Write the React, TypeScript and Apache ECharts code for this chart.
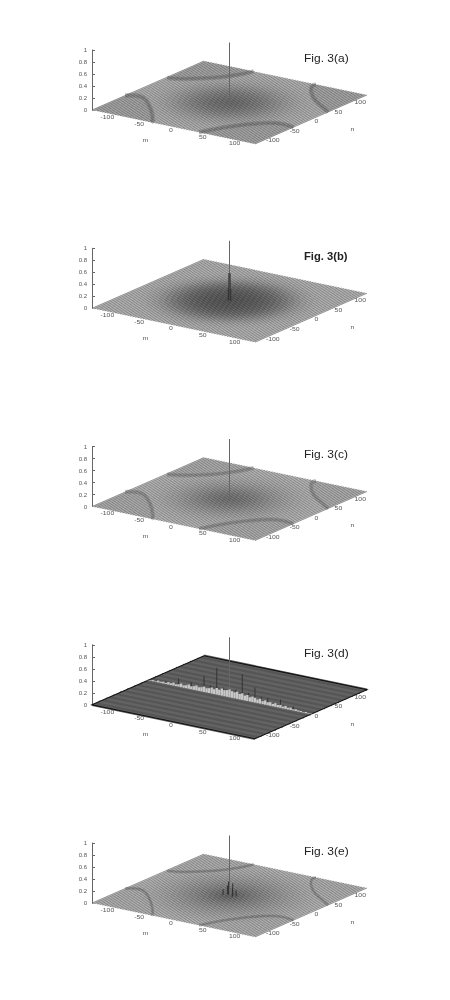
import React, { useEffect, useRef } from "react";
import * as echarts from "echarts";

// Panel captions
const captions = ["Fig. 3(a)", "Fig. 3(b)", "Fig. 3(c)", "Fig. 3(d)", "Fig. 3(e)"];
const mTicks = [-100, -50, 0, 50, 100];
const nTicks = [-100, -50, 0, 50, 100];

// Mean surface grey, by radius from the centre (m, n) = (0, 0)
const radii = [124, 116, 108, 100, 92, 84, 76, 68, 60, 52, 44, 36, 28, 20, 12, 5];
const greyA = [172, 170, 168, 164, 158, 150, 141, 130, 119, 108, 98, 90, 82, 76, 72, 68];
const greyB = [172, 168, 160, 150, 136, 118, 100, 84, 70, 60, 52, 46, 42, 38, 36, 34];
const greyC = [176, 174, 172, 169, 164, 158, 151, 143, 134, 124, 114, 104, 95, 88, 83, 80];
const greyD = [85, 85, 85, 85, 85, 85, 85, 85, 85, 85, 85, 85, 85, 85, 85, 85];
const greyE = [176, 172, 168, 163, 157, 151, 144, 136, 128, 119, 110, 100, 89, 78, 66, 56];

// Arcs round the four corners, as [m, n]
const arcLeft = [[-128, -52], [-106, -45], [-74, -74], [-39, -118], [-35, -128]];
const arcBack = [[-126, 41], [-107, 49], [-80, 72], [-59, 103], [-50, 128]];
const arcFront = [[40, -128], [52, -97], [74, -61], [100, -38], [128, -40]];
const arcRight = [[48, 128], [50, 114], [78, 78], [113, 50], [128, 39]];
const arcCorners = [[-128, -128], [-128, 128], [128, -128], [128, 128]];

// Peaks as [m, n, z]
const peaksA = [[0, 0, 1]];
const peaksB = [[0, 0, 1], [-1, 0, 0.46], [1, 0, 0.46], [2, 0, 0.2], [-2, 0, 0.2]];
const peaksC = [[0, 0, 1]];
const peaksD = [[0, 0, 1], [-20, 0, 0.445], [20, 0, 0.43], [-40, 0, 0.26], [40, 0, 0.25], [-60, 0, 0.117], [60, 0, 0.12], [-80, 0, 0.137], [80, 0, 0.14], [-100, 0, 0.05], [100, 0, 0.07], [-10, 0, 0.14], [10, 0, 0.15], [-30, 0, 0.13], [30, 0, 0.14], [50, 0, 0.12]];
const peaksE = [[0, 0, 1], [-6, 4, 0.14], [-3, 2, 0.22], [3, 3, 0.2], [6, -2, 0.14], [-8, -3, 0.1], [9, 2, 0.1]];

// Low ridge of panel (d) along n = 0, z at m = -128, -124, ... 128
const ridgeZ = [0.01, 0.01, 0.02, 0.01, 0.03, 0.02, 0.03, 0.02, 0.04, 0.03, 0.05, 0.03, 0.04, 0.06, 0.04, 0.05, 0.07, 0.05, 0.06, 0.08, 0.06, 0.07, 0.09, 0.07, 0.08, 0.1, 0.08, 0.11, 0.09, 0.12, 0.1, 0.11, 0.13, 0.11, 0.1, 0.12, 0.09, 0.11, 0.08, 0.1, 0.07, 0.09, 0.08, 0.06, 0.08, 0.05, 0.07, 0.05, 0.06, 0.04, 0.06, 0.04, 0.05, 0.03, 0.05, 0.03, 0.04, 0.02, 0.03, 0.02, 0.02, 0.01, 0.02, 0.01, 0.01];
const ridgeM = ridgeZ.map((_, i) => -128 + i * 4);

const panels = [
  { grey: greyA, peaks: peaksA, arc: 0.26, arcW: 2.4, corner: 0.12, base: 172, bold: false },
  { grey: greyB, peaks: peaksB, arc: 0, arcW: 0, corner: 0, base: 172, bold: true },
  { grey: greyC, peaks: peaksC, arc: 0.22, arcW: 2.2, corner: 0.07, base: 176, bold: false },
  { grey: greyD, peaks: peaksD, arc: 0, arcW: 0, corner: 0, base: 85, bold: false },
  { grey: greyE, peaks: peaksE, arc: 0.24, arcW: 1.6, corner: 0.04, base: 176, bold: false },
];

const STEP = 198.25;
const axisFont = "'Liberation Sans', Arial, sans-serif";
const project = (m: number, n: number, z: number) => {
  const a = (m + 128) / 256;
  const b = (n + 128) / 256;
  return [a * 163 + b * 112, 34 - a * 34 + b * 49 + 60 * z];
};

function custom(idx: number, count: number, render: (i: number, api: any) => any) {
  return {
    type: "custom",
    xAxisIndex: idx,
    yAxisIndex: idx,
    silent: true,
    clip: false,
    animation: false,
    data: Array.from({ length: count }, (_, i) => [i]),
    renderItem: (params: any, api: any) => render(params.dataIndex, api),
  };
}

function buildOption() {
  const grid: any[] = [];
  const xAxis: any[] = [];
  const yAxis: any[] = [];
  const series: any[] = [];
  const graphic: any[] = [];

  panels.forEach((p, k) => {
    const off = STEP * k;
    const pg = k * 2;
    const zg = k * 2 + 1;
    grid.push({ left: 92, width: 275, top: 42 + off, height: 102 });
    xAxis.push({ gridIndex: pg, type: "value", min: 0, max: 275, show: false });
    yAxis.push({ gridIndex: pg, type: "value", min: 0, max: 102, show: false });
    grid.push({ left: 92, width: 10, top: 50 + off, height: 60 });
    xAxis.push({ gridIndex: zg, type: "value", min: 0, max: 1, show: false });
    yAxis.push({
      gridIndex: zg, type: "value", min: 0, max: 1, interval: 0.2,
      axisLine: { show: true, lineStyle: { color: "#666", width: 1 } },
      axisTick: { show: true, inside: true, length: 3, lineStyle: { color: "#666", width: 1 } },
      axisLabel: { fontSize: 6, color: "#555", margin: 5, fontFamily: axisFont },
      splitLine: { show: false },
    });
    graphic.push({
      type: "text", x: 304, y: 58 + 198.4 * k, scaleX: p.bold ? 1.12 : 1.2,
      style: {
        text: captions[k], fontSize: 10, fontWeight: p.bold ? "bold" : "normal", fill: "#222",
        fontFamily: axisFont, verticalAlign: "middle", align: "left",
      },
    });

    const pts = (arr: number[][], api: any) => arr.map((q) => api.coord(project(q[0], q[1], q[2] ?? 0)));
    const square = [[-128, -128], [-128, 128], [128, 128], [128, -128]];

    // plane
    series.push(custom(pg, 1, (_i, api) => ({
      type: "polygon",
      shape: { points: pts(square, api) },
      style: { fill: `rgb(${p.base},${p.base},${p.base})` },
    })));
    // radial darkness
    series.push(custom(pg, radii.length, (i, api) => {
      const ring: number[][] = [];
      for (let t = 0; t < 72; t++) {
        const th = (t / 72) * Math.PI * 2;
        ring.push([radii[i] * Math.cos(th), radii[i] * Math.sin(th)]);
      }
      const g = p.grey[i];
      return { type: "polygon", shape: { points: pts(ring, api) }, style: { fill: `rgb(${g},${g},${g})` } };
    }));
    // corners and arcs
    if (p.arc > 0) {
      const arcs = [arcLeft, arcBack, arcFront, arcRight];
      series.push(custom(pg, arcs.length, (i, api) => ({
        type: "polygon",
        shape: { points: pts([arcCorners[i], ...arcs[i]], api) },
        style: { fill: `rgba(0,0,0,${p.corner})` },
      })));
      series.push(custom(pg, arcs.length, (i, api) => ({
        type: "polyline",
        shape: { points: pts(arcs[i], api), smooth: 0.4 },
        style: { fill: "none", stroke: `rgba(30,30,30,${p.arc})`, lineWidth: p.arcW * 1.9 },
      })));
      series.push(custom(pg, arcs.length, (i, api) => ({
        type: "polyline",
        shape: { points: pts(arcs[i], api), smooth: 0.4 },
        style: { fill: "none", stroke: `rgba(30,30,30,${p.arc})`, lineWidth: p.arcW },
      })));
    }
    // surface mesh
    const meshStep = k === 3 ? 16 : 4;
    const meshN = Math.floor(256 / meshStep) + 1;
    series.push(custom(pg, meshN, (i, api) => {
      const n = -128 + i * meshStep;
      const a = api.coord(project(-128, n, 0));
      const b = api.coord(project(128, n, 0));
      return {
        type: "line",
        shape: { x1: a[0], y1: a[1], x2: b[0], y2: b[1] },
        style: k === 3
          ? { stroke: "#636363", lineWidth: 2.4 }
          : { stroke: "rgba(255,255,255,0.45)", lineWidth: 0.8 },
      };
    }));
    if (k !== 3) {
      series.push(custom(pg, meshN, (i, api) => {
        const m = -128 + i * meshStep;
        const a = api.coord(project(m, -128, 0));
        const b = api.coord(project(m, 128, 0));
        return {
          type: "line",
          shape: { x1: a[0], y1: a[1], x2: b[0], y2: b[1] },
          style: { stroke: "rgba(0,0,0,0.4)", lineWidth: 0.8 },
        };
      }));
    } else {
      series.push(custom(pg, 1, (_i, api) => ({
        type: "polygon",
        shape: { points: pts(square, api) },
        style: { fill: "none", stroke: "#111", lineWidth: 1.1 },
      })));
    }
    // peaks
    series.push(custom(pg, p.peaks.length, (i, api) => {
      const q = p.peaks[i];
      const a = api.coord(project(q[0], q[1], 0));
      const b = api.coord(project(q[0], q[1], q[2]));
      return {
        type: "line",
        shape: { x1: a[0], y1: a[1], x2: b[0], y2: b[1] },
        style: { stroke: q[2] > 0.9 ? "#666" : "#333", lineWidth: 1 },
      };
    }));
    if (k === 3) {
      series.push(custom(pg, ridgeM.length, (i, api) => {
        const a = api.coord(project(ridgeM[i], 0, 0));
        const b = api.coord(project(ridgeM[i], 0, ridgeZ[i]));
        return {
          type: "line",
          shape: { x1: a[0], y1: a[1], x2: b[0], y2: b[1] },
          style: { stroke: "#c8c8c8", lineWidth: 2.4 },
        };
      }));
    }
    // tick labels
    const labelStyle = { fontSize: 5.5, fill: "#555", fontFamily: axisFont, align: "center", verticalAlign: "middle" };
    series.push(custom(pg, mTicks.length, (i, api) => {
      const c = api.coord(project(mTicks[i], -128, 0));
      return { type: "text", x: c[0] - 2.5, y: c[1] + 3, scaleX: 1.25, style: { ...labelStyle, text: String(mTicks[i]) } };
    }));
    series.push(custom(pg, nTicks.length, (i, api) => {
      const c = api.coord(project(128, nTicks[i], 0));
      return { type: "text", x: c[0] + 5.5, y: c[1] + 1.5, scaleX: 1.25, style: { ...labelStyle, text: String(nTicks[i]) } };
    }));
    series.push(custom(pg, 2, (i, api) => {
      const c = i === 0 ? api.coord(project(-25, -128, 0)) : api.coord(project(128, 48, 0));
      const dx = i === 0 ? -12 : 20.3;
      const dy = i === 0 ? 15.7 : 18.4;
      return { type: "text", x: c[0] + dx, y: c[1] + dy, scaleX: 1.25, style: { ...labelStyle, text: i === 0 ? "m" : "n" } };
    }));
  });

  return { animation: false, grid, xAxis, yAxis, series, graphic };
}

export default function App() {
  const ref = useRef<HTMLDivElement>(null);
  useEffect(() => {
    const chart = echarts.init(ref.current!, undefined, { renderer: "svg" });
    chart.setOption(buildOption() as any);
    return () => chart.dispose();
  }, []);
  return <div ref={ref} style={{ position: "absolute", left: 0, top: 0, width: 450, height: 1000, willChange: "transform" }} />;
}
